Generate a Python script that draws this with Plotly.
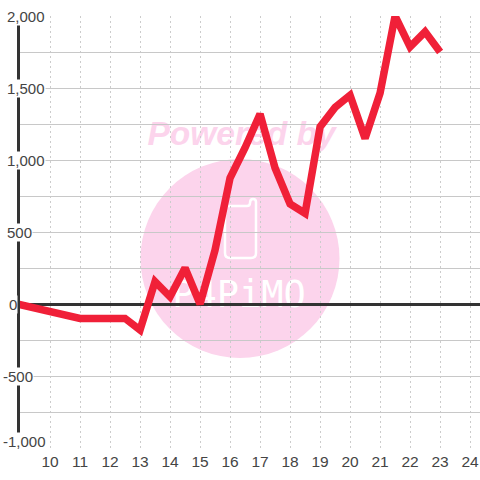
import plotly.graph_objects as go

x_values = [8.9, 11, 12.5, 13, 13.5, 14, 14.5, 15, 15.5, 16, 16.5, 17, 17.5, 18, 18.5,
            19, 19.5, 20, 20.5, 21, 21.5, 22, 22.5, 23]
y_values = [0, -100, -100, -180, 155, 50, 250, 0, 375, 875, 1085, 1320, 945, 695, 630,
            1230, 1365, 1450, 1150, 1465, 2000, 1785, 1890, 1750]
x_ticks = list(range(10, 25))
y_ticks = [-1000, -500, 0, 500, 1000, 1500, 2000]
y_labels = ["-1,000", "-500", "0", "500", "1,000", "1,500", "2,000"]
watermark_top = "Powered by"
watermark_brand = "P4PiMO"

W, H = 480, 480
L, R, T, B = 20, 0, 16, 32
pw, ph = W - L - R, H - T - B
fx = lambda px: (px - L) / pw
fy = lambda py: 1 - (py - T) / ph

INK = "#444444"
PINK = "#fcd4ec"


def path(points):
    out = []
    for cmd, *pts in points:
        coords = " ".join("%.5f %.5f" % (fx(a), fy(b)) for a, b in pts)
        out.append((cmd + " " + coords).strip())
    return " ".join(out)


phone = path([
    ("M", (225, 209)), ("L", (225, 253)), ("Q", (225, 258), (230, 258)),
    ("L", (251, 258)), ("Q", (256, 258), (256, 253)), ("L", (256, 202)),
    ("Q", (256, 199), (253, 199)), ("Q", (250, 199), (250, 203)),
    ("Q", (250, 206), (247, 206)), ("L", (228, 206)), ("Q", (225, 206), (225, 209)),
    ("Z",),
])

fig = go.Figure()
fig.add_trace(go.Scatter(x=x_values, y=y_values, mode="lines", cliponaxis=False,
                         line=dict(color="#f02038", width=7.5), hoverinfo="skip"))

shapes = [
    dict(type="circle", xref="paper", yref="paper", layer="below",
         x0=fx(140.5), x1=fx(339.5), y0=fy(358), y1=fy(159),
         fillcolor=PINK, line_width=0),
    dict(type="path", xref="paper", yref="paper", layer="below", path=phone,
         line=dict(color="#ffffff", width=2.5), fillcolor="rgba(0,0,0,0)"),
    dict(type="rect", xref="paper", yref="paper", layer="below",
         x0=fx(140), x1=fx(343), y0=fy(146), y1=fy(114), line_width=0,
         fillcolor="rgba(0,0,0,0)",
         label=dict(text=watermark_top, textposition="middle center",
                    font=dict(family="Liberation Sans", size=33.5, color=PINK,
                              weight="bold", style="italic"))),
    dict(type="rect", xref="paper", yref="paper", layer="below",
         x0=fx(172), x1=fx(306), y0=fy(309), y1=fy(273), line_width=0,
         fillcolor="rgba(0,0,0,0)",
         label=dict(text=watermark_brand, textposition="middle center",
                    font=dict(family="DejaVu Sans Mono", size=37, color="#ffffff"))),
]


def label_left(text):
    if text.startswith("-"):
        return 2
    return 7.5 if text == "0" else 6


annotations = [
    dict(x=fx(label_left(t)), y=v, xref="paper", yref="y", text=t, showarrow=False,
         xanchor="left", yanchor="middle", align="left", bgcolor="#ffffff", borderpad=0,
         yshift=7 if v == y_ticks[0] else 0,
         font=dict(family="Liberation Sans", size=15, color=INK))
    for v, t in zip(y_ticks, y_labels)
]

fig.update_layout(
    width=W, height=H, margin=dict(l=L, r=R, t=T, b=B, pad=0),
    paper_bgcolor="#ffffff", plot_bgcolor="#ffffff", showlegend=False,
    shapes=shapes, annotations=annotations,
    xaxis=dict(range=[9, 24.33], tickmode="array", tickvals=x_ticks,
               showgrid=True, gridcolor="#cccccc", griddash="2px,3px", gridwidth=1,
               zeroline=False, showline=False, ticks="", ticklabelstandoff=2,
               tickfont=dict(family="Liberation Sans", size=15.5, color=INK)),
    yaxis=dict(range=[-1000, 2000], tickmode="array",
               tickvals=list(range(-1000, 2001, 250)), showticklabels=False,
               showgrid=True, gridcolor="#c8c8c8", gridwidth=1,
               zeroline=True, zerolinecolor="#333333", zerolinewidth=3,
               showline=True, linecolor="#333333", linewidth=3, ticks=""),
)
fig.write_html("out.html", config=dict(displayModeBar=False),
               post_script="document.body.style.margin='0';document.documentElement.style.overflow='hidden';")
